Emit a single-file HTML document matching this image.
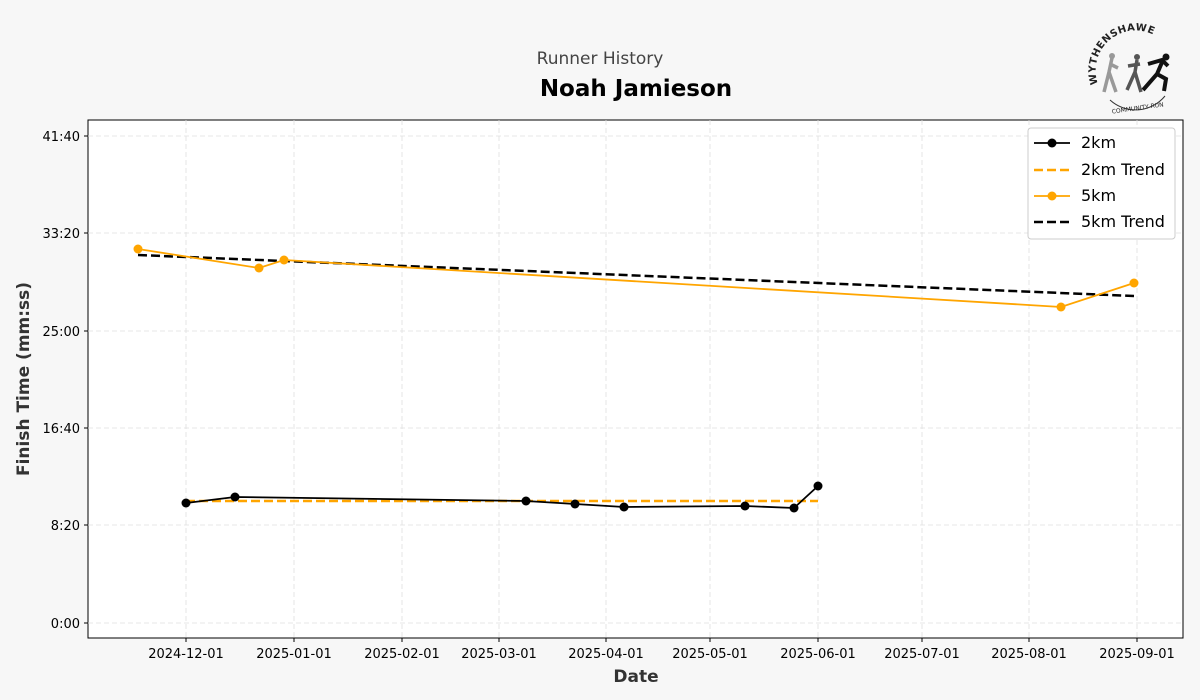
<!DOCTYPE html>
<html><head><meta charset="utf-8"><style>
body{margin:0;background:#f7f7f7;}
svg{display:block;font-family:"DejaVu Sans","Liberation Sans",sans-serif;}
</style></head><body>
<svg width="1200" height="700" viewBox="0 0 1200 700">
<rect width="1200" height="700" fill="#f7f7f7"/>
<text x="600" y="64" text-anchor="middle" font-size="17" fill="#444">Runner History</text>
<text x="636" y="96" text-anchor="middle" font-size="23" font-weight="bold" fill="#000">Noah Jamieson</text>
<rect x="88" y="120" width="1095" height="518" fill="#fff" stroke="#000" stroke-width="1"/>
<g stroke="#e0e0e0" stroke-dasharray="5,3" stroke-width="0.8">
<line x1="186" y1="120" x2="186" y2="638"/><line x1="294" y1="120" x2="294" y2="638"/>
<line x1="402" y1="120" x2="402" y2="638"/><line x1="499" y1="120" x2="499" y2="638"/>
<line x1="606" y1="120" x2="606" y2="638"/><line x1="710" y1="120" x2="710" y2="638"/>
<line x1="818" y1="120" x2="818" y2="638"/><line x1="922" y1="120" x2="922" y2="638"/>
<line x1="1029" y1="120" x2="1029" y2="638"/><line x1="1137" y1="120" x2="1137" y2="638"/>
<line x1="88" y1="136" x2="1183" y2="136"/><line x1="88" y1="233" x2="1183" y2="233"/>
<line x1="88" y1="331" x2="1183" y2="331"/><line x1="88" y1="428" x2="1183" y2="428"/>
<line x1="88" y1="525" x2="1183" y2="525"/><line x1="88" y1="623" x2="1183" y2="623"/>
</g>
<g stroke="#000" stroke-width="1">
<line x1="186" y1="638" x2="186" y2="642"/><line x1="294" y1="638" x2="294" y2="642"/>
<line x1="402" y1="638" x2="402" y2="642"/><line x1="499" y1="638" x2="499" y2="642"/>
<line x1="606" y1="638" x2="606" y2="642"/><line x1="710" y1="638" x2="710" y2="642"/>
<line x1="818" y1="638" x2="818" y2="642"/><line x1="922" y1="638" x2="922" y2="642"/>
<line x1="1029" y1="638" x2="1029" y2="642"/><line x1="1137" y1="638" x2="1137" y2="642"/>
<line x1="84" y1="136" x2="88" y2="136"/><line x1="84" y1="233" x2="88" y2="233"/>
<line x1="84" y1="331" x2="88" y2="331"/><line x1="84" y1="428" x2="88" y2="428"/>
<line x1="84" y1="525" x2="88" y2="525"/><line x1="84" y1="623" x2="88" y2="623"/>
</g>
<g font-size="13" fill="#000" text-anchor="middle">
<text x="186" y="658">2024-12-01</text><text x="294" y="658">2025-01-01</text>
<text x="402" y="658">2025-02-01</text><text x="499" y="658">2025-03-01</text>
<text x="606" y="658">2025-04-01</text><text x="710" y="658">2025-05-01</text>
<text x="818" y="658">2025-06-01</text><text x="922" y="658">2025-07-01</text>
<text x="1029" y="658">2025-08-01</text><text x="1137" y="658">2025-09-01</text>
</g>
<g font-size="13" fill="#000" text-anchor="end">
<text x="80" y="141">41:40</text><text x="80" y="238">33:20</text><text x="80" y="336">25:00</text>
<text x="80" y="433">16:40</text><text x="80" y="530">8:20</text><text x="80" y="628">0:00</text>
</g>
<text x="636" y="682" text-anchor="middle" font-size="17" font-weight="bold" fill="#333">Date</text>
<text transform="translate(29,379) rotate(-90)" text-anchor="middle" font-size="17" font-weight="bold" fill="#333">Finish Time (mm:ss)</text>
<line x1="186" y1="501" x2="818" y2="501" stroke="#ffa500" stroke-width="2.5" stroke-dasharray="9,4"/>
<line x1="138" y1="255" x2="1134" y2="296" stroke="#000" stroke-width="2.5" stroke-dasharray="9,4"/>
<polyline points="186,503 235,497 526,501 575,504 624,507 745,506 794,508 818,486" fill="none" stroke="#000" stroke-width="1.8"/>
<g fill="#000"><circle cx="186" cy="503" r="4.5"/><circle cx="235" cy="497" r="4.5"/><circle cx="526" cy="501" r="4.5"/><circle cx="575" cy="504" r="4.5"/><circle cx="624" cy="507" r="4.5"/><circle cx="745" cy="506" r="4.5"/><circle cx="794" cy="508" r="4.5"/><circle cx="818" cy="486" r="4.5"/></g>
<polyline points="138,249 259,268 284,260 1061,307 1134,283" fill="none" stroke="#ffa500" stroke-width="1.8"/>
<g fill="#ffa500"><circle cx="138" cy="249" r="4.5"/><circle cx="259" cy="268" r="4.5"/><circle cx="284" cy="260" r="4.5"/><circle cx="1061" cy="307" r="4.5"/><circle cx="1134" cy="283" r="4.5"/></g>
<rect x="1028" y="128" width="147" height="111" rx="3" fill="#fff" stroke="#ccc"/>
<g font-size="16" fill="#000">
<line x1="1034" y1="143" x2="1070" y2="143" stroke="#000" stroke-width="1.8"/><circle cx="1052" cy="143" r="4.5"/><text x="1081" y="148">2km</text>
<line x1="1034" y1="170" x2="1070" y2="170" stroke="#ffa500" stroke-width="2.5" stroke-dasharray="9,4"/><text x="1081" y="175">2km Trend</text>
<line x1="1034" y1="196" x2="1070" y2="196" stroke="#ffa500" stroke-width="1.8"/><circle cx="1052" cy="196" r="4.5" fill="#ffa500"/><text x="1081" y="201">5km</text>
<line x1="1034" y1="222" x2="1070" y2="222" stroke="#000" stroke-width="2.5" stroke-dasharray="9,4"/><text x="1081" y="227">5km Trend</text>
</g>
<g>
<path id="arc" d="M1098,84 A40,40 0 0,1 1170,50" fill="none"/>
<text font-size="10" fill="#222" font-weight="bold" letter-spacing="0.5"><textPath href="#arc">WYTHENSHAWE</textPath></text>
<path d="M1110,100 A38,38 0 0,0 1165,96" fill="none" stroke="#333" stroke-width="1"/>
<text x="1138" y="110" text-anchor="middle" font-size="6" fill="#222" transform="rotate(-8 1138 110)">COMMUNITY RUN</text>
<path d="M1112,58 l-3,14 -5,20 M1109,72 l7,20 M1110,64 l8,4" stroke="#999" stroke-width="3.5" fill="none"/>
<circle cx="1112" cy="56" r="3" fill="#999"/>
<path d="M1137,60 l-2,12 -8,18 M1135,72 l6,20 M1128,66 l12,-2" stroke="#555" stroke-width="3.5" fill="none"/>
<circle cx="1137" cy="57" r="3" fill="#555"/>
<path d="M1163,60 l-6,14 -14,16 M1157,74 l9,5 -2,12 M1148,64 l14,-4 6,6" stroke="#111" stroke-width="4" fill="none"/>
<circle cx="1166" cy="57" r="3.5" fill="#111"/>
</g>
</svg>
</body></html>
